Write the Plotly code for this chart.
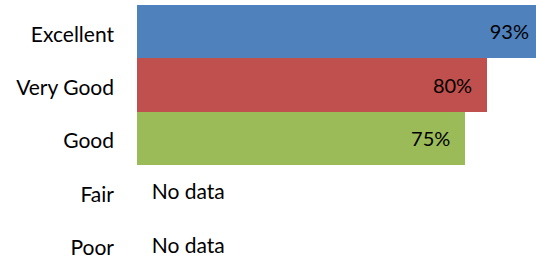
import plotly.graph_objects as go

categories = ["Excellent", "Very Good", "Good", "Fair", "Poor"]
values = [0.93, 0.80, 0.75, None, None]
colors = ["#4F81BD", "#C0504D", "#9BBB59", "#FFFFFF", "#FFFFFF"]
no_data_label = "No data"

FONT = "Lato"
FS = 21
TEXT_SHIFT = 0.047  # text baseline sits slightly below row centre, as in the original

rated = [(c, v) for c, v in zip(categories, values) if v is not None]
nd_cats = [c for c, v in zip(categories, values) if v is None]

fig = go.Figure()
fig.add_trace(go.Bar(
    x=values, y=categories, orientation="h",
    marker=dict(color=colors, line=dict(width=0)),
    hoverinfo="skip", showlegend=False,
))
fig.add_trace(go.Scatter(
    x=[v for _, v in rated], y=[c for c, _ in rated], yaxis="y2",
    mode="markers+text",
    text=[f"{v:.0%}" for _, v in rated], textposition="middle left",
    marker=dict(size=21.6, color="rgba(0,0,0,0)"),
    textfont=dict(family=FONT, size=20, color="#000000"),
    hoverinfo="skip", showlegend=False,
))
fig.add_trace(go.Scatter(
    x=[0] * len(nd_cats), y=nd_cats, yaxis="y2", mode="markers+text",
    text=[no_data_label] * len(nd_cats), textposition="middle right",
    marker=dict(size=22, color="rgba(0,0,0,0)"),
    textfont=dict(family=FONT, size=FS, color="#000000"),
    hoverinfo="skip", showlegend=False,
))
yr = [4.2625, -0.5]
fig.update_layout(
    width=536, height=259,
    margin=dict(l=137, r=0, t=5, b=0, pad=0),
    paper_bgcolor="white", plot_bgcolor="white",
    bargap=0,
    font=dict(family=FONT, size=FS, color="#000000"),
    xaxis=dict(range=[0, 0.913], visible=False, showgrid=False, zeroline=False),
    yaxis=dict(categoryorder="array", categoryarray=categories,
               range=yr, showgrid=False, zeroline=False,
               showline=False, ticks="", showticklabels=False),
    yaxis2=dict(overlaying="y", side="left", anchor="x",
                categoryorder="array", categoryarray=categories,
                range=[yr[0] - TEXT_SHIFT, yr[1] - TEXT_SHIFT],
                showgrid=False, zeroline=False, showline=False, ticks="",
                ticklabelstandoff=22,
                tickfont=dict(family=FONT, size=FS, color="#000000")),
)
fig.write_html("out.html", config={"displayModeBar": False},
               post_script="document.body.style.margin='0';document.body.style.overflow='hidden';")
